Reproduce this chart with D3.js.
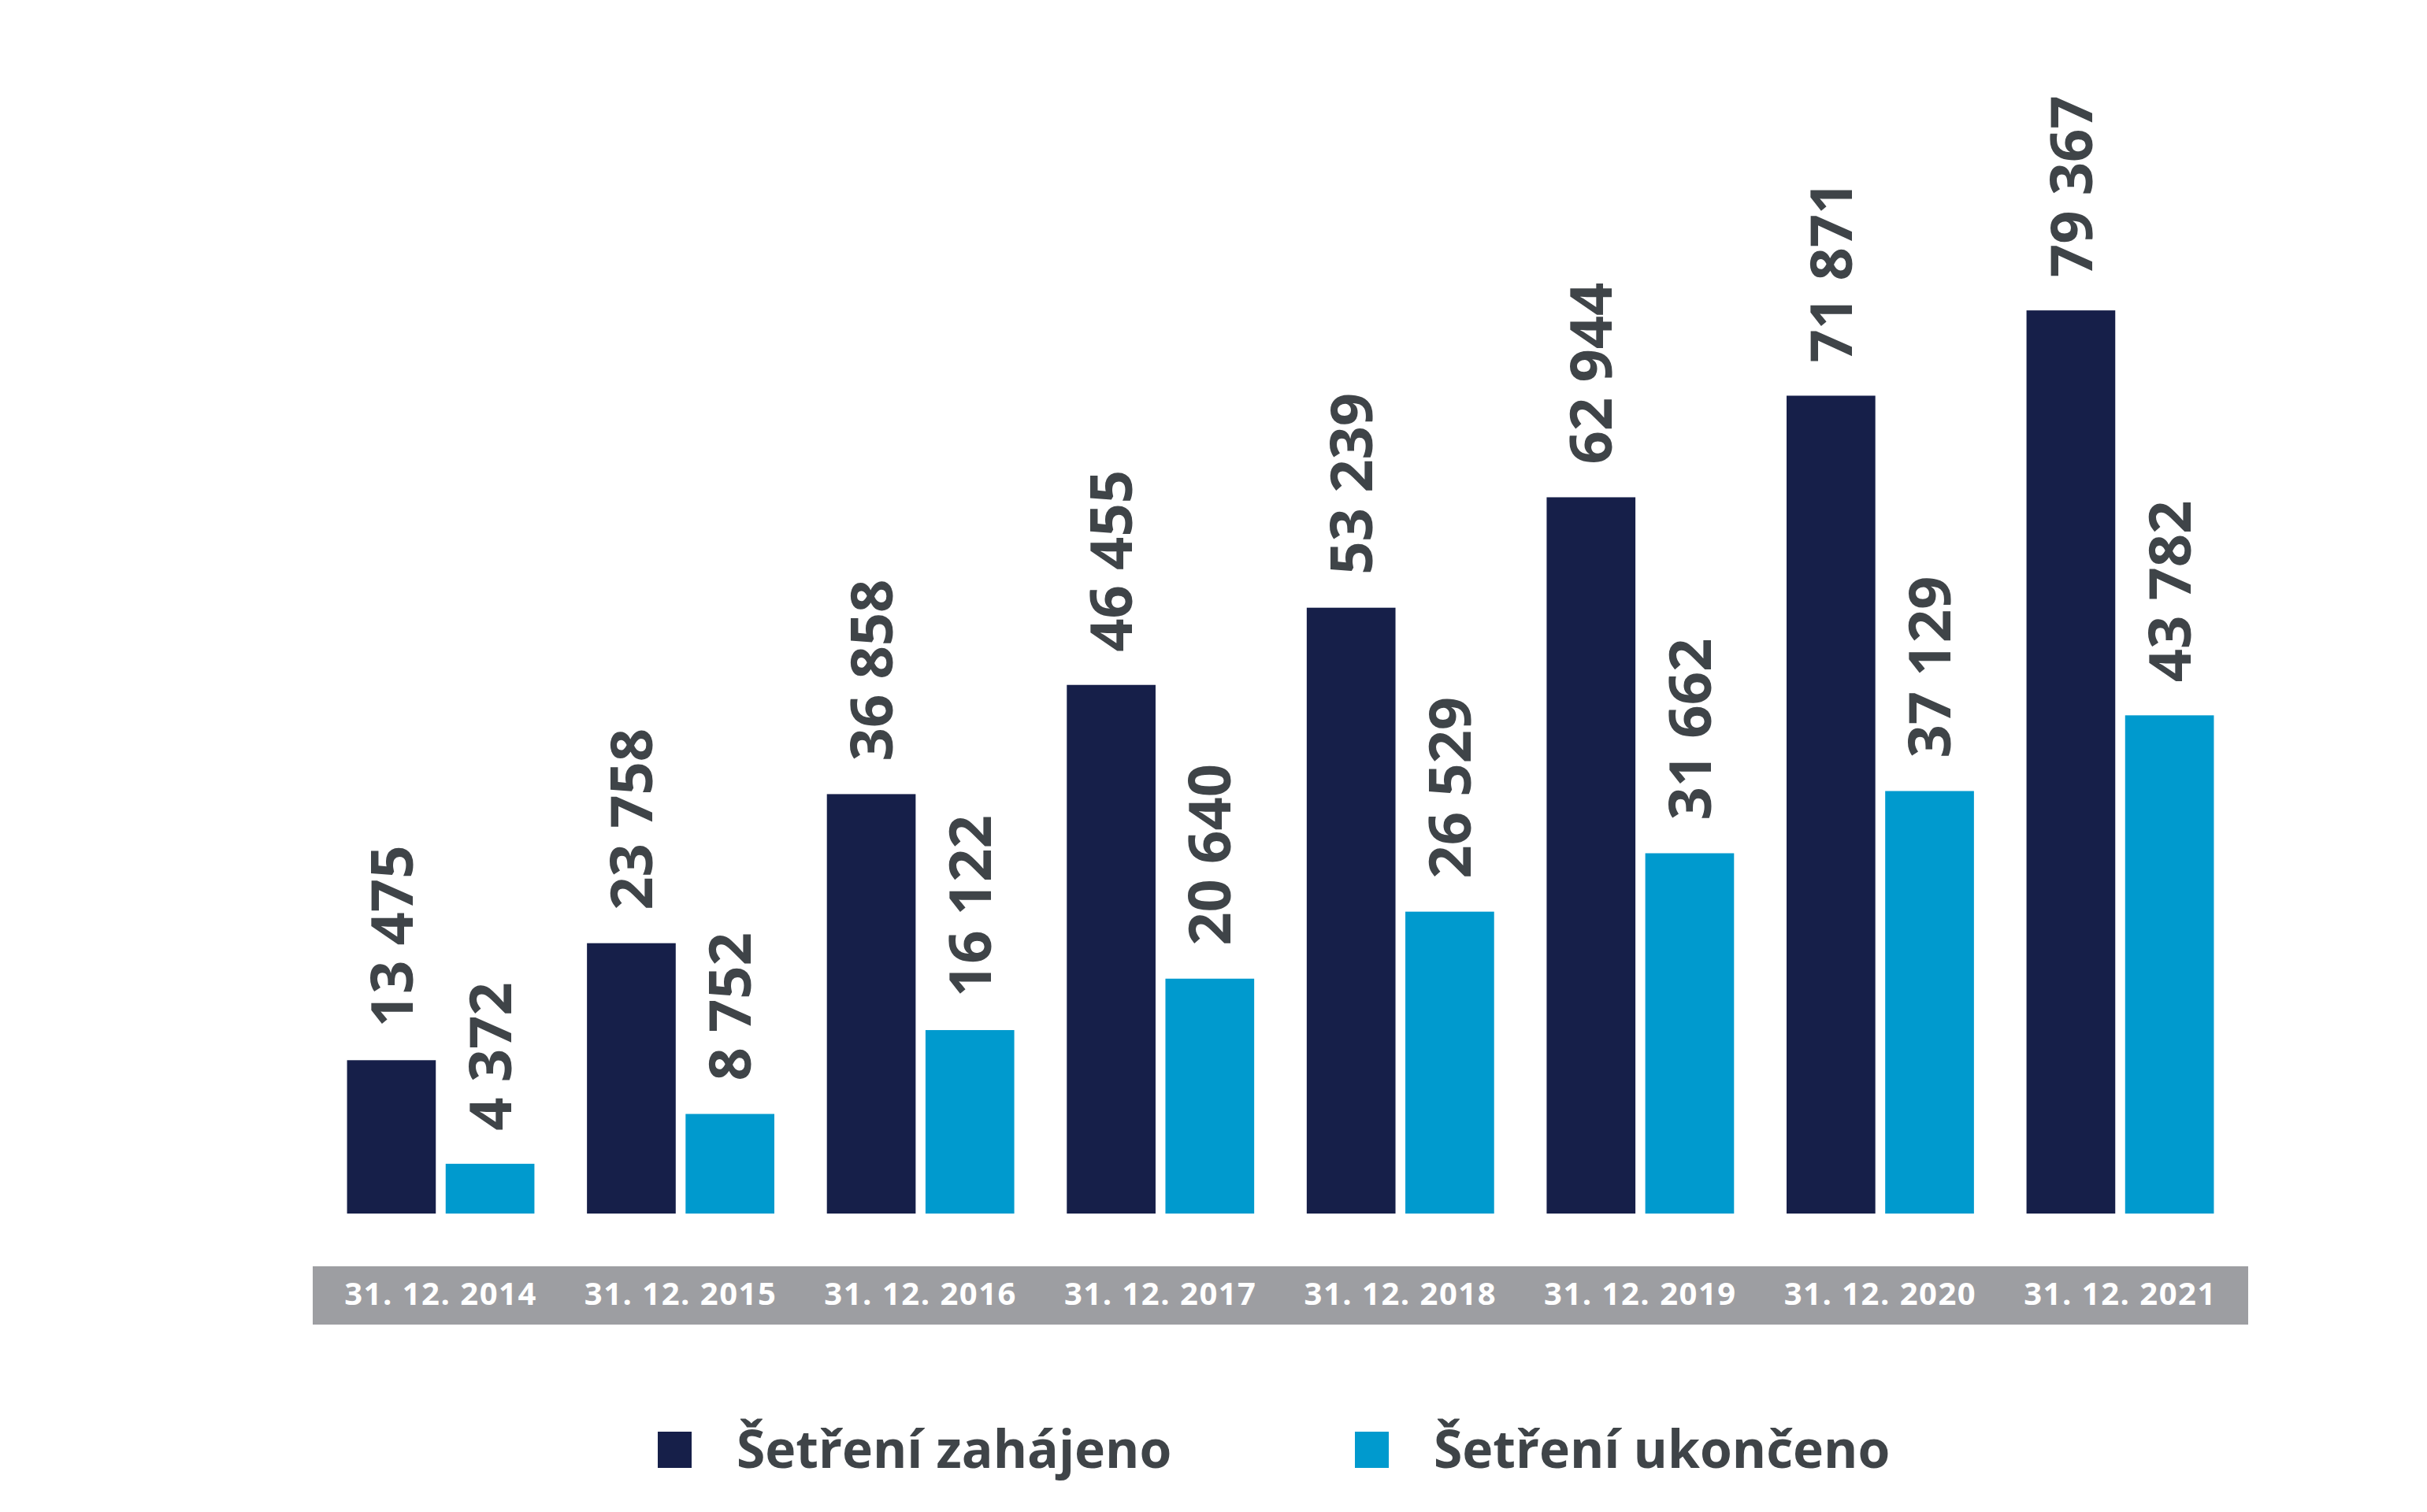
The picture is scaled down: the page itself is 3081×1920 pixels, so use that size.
<!DOCTYPE html>
<html>
<head>
<meta charset="utf-8">
<script src="https://cdn.jsdelivr.net/npm/d3@7"></script>
<style>
  body { margin: 0; background: #fff; }
  text { font-family: "Open Sans", "DejaVu Sans", sans-serif; font-weight: 700; }
</style>
</head>
<body>
<div id="chart"></div>
<script>
// data
let categories = ['31. 12. 2014', '31. 12. 2015', '31. 12. 2016', '31. 12. 2017',
                  '31. 12. 2018', '31. 12. 2019', '31. 12. 2020', '31. 12. 2021'];
let seriesNames = ['Šetření zahájeno', 'Šetření ukončeno'];
let started = [13475, 23758, 36858, 46455, 53239, 62944, 71871, 79367];
let finished = [4372, 8752, 16122, 20640, 26529, 31662, 37129, 43782];
let colors = ['#161f49', '#009ace'];

let width = 3081, height = 1920;
let baseline = 1541;

let rows = categories.map((c, i) => ({cat: c, values: [started[i], finished[i]]}));

let fmt = d3.formatLocale({decimal: ',', thousands: ' ', grouping: [3], currency: ['', '']}).format(',d');

let svg = d3.select('#chart').append('svg')
  .attr('width', width)
  .attr('height', height);

// scales
let x = d3.scaleBand()
  .domain(categories)
  .range([397, 2854])
  .paddingInner(0.219)
  .paddingOuter(0.143);

let xSub = d3.scaleBand()
  .domain([0, 1])
  .range([0, x.bandwidth()])
  .paddingInner(0.1);

let y = d3.scaleLinear()
  .domain([0, 80000])
  .range([baseline, baseline - 80000 * 0.01445]);

// category band
svg.append('rect')
  .attr('x', x.range()[0])
  .attr('y', 1608)
  .attr('width', x.range()[1] - x.range()[0])
  .attr('height', 74)
  .style('fill', '#9d9ea2');

let xAxis = svg.append('g')
  .attr('transform', `translate(0, 1657)`)
  .call(d3.axisBottom(x).tickSize(0).tickPadding(0));
xAxis.select('.domain').remove();
xAxis.selectAll('text')
  .attr('dy', 0)
  .style('font-size', '40px')
  .style('letter-spacing', '1.5px')
  .style('fill', '#fff');

// bars
let groups = svg.selectAll('.group')
  .data(rows)
  .enter().append('g')
    .attr('class', 'group')
    .attr('transform', d => `translate(${x(d.cat)}, 0)`);

groups.selectAll('rect')
  .data(d => d.values)
  .enter().append('rect')
    .attr('x', (d, i) => xSub(i))
    .attr('y', d => y(d))
    .attr('width', xSub.bandwidth())
    .attr('height', d => y(0) - y(d))
    .style('fill', (d, i) => colors[i]);

// value labels, rotated
groups.selectAll('.val')
  .data(d => d.values)
  .enter().append('text')
    .attr('class', 'val')
    .attr('transform', (d, i) => `translate(${xSub(i) + xSub.bandwidth() / 2}, ${y(d) - 42}) rotate(-90)`)
    .attr('dy', '0.36em')
    .style('font-size', '74px')
    .style('fill', '#3f4448')
    .text(d => fmt(d));

// legend
let legendX = [835, 1720];
let legend = svg.selectAll('.legend')
  .data(seriesNames)
  .enter().append('g')
    .attr('class', 'legend')
    .attr('transform', (d, i) => `translate(${legendX[i]}, 1818)`);

legend.append('rect')
  .attr('width', 43)
  .attr('height', 46)
  .style('fill', (d, i) => colors[i]);

legend.append('text')
  .attr('x', 100)
  .attr('y', 46)
  .style('font-size', '66px')
  .style('fill', '#3f4448')
  .text(d => d);
</script>
</body>
</html>
